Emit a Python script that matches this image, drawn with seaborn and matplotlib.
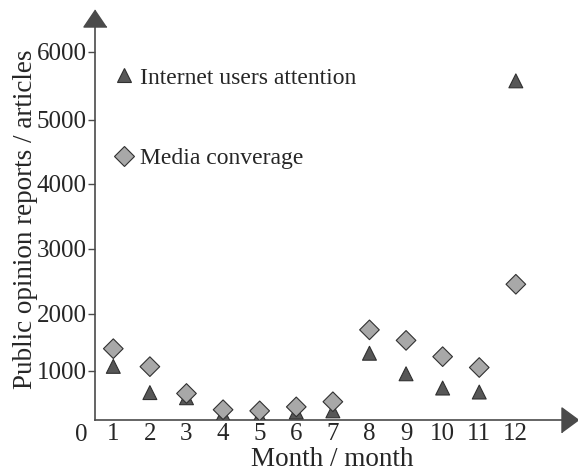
import numpy as np
import pandas as pd
import matplotlib.pyplot as plt
import seaborn as sns

# --- DATA ---
months = list(range(1, 13))
internet_attention = [1080, 620, 530, 245, 210, 280, 300, 1310, 950, 700, 630, 5570]
media_coverage = [1390, 1075, 605, 320, 300, 370, 460, 1720, 1535, 1250, 1060, 2455]
series_names = ['Internet users attention', 'Media converage']
y_ticks = [1000, 2000, 3000, 4000, 5000, 6000]

# the printed y axis is not evenly spaced: tick value -> height on the page
scale_vals = [-2000, 0, 1000, 2000, 3000, 4000, 5000, 6000, 10000]
scale_pos = [-68, 46, 103, 160, 225, 290, 354, 422, 694]


def fwd(v):
    return np.interp(v, scale_vals, scale_pos)


def inv(p):
    return np.interp(p, scale_pos, scale_vals)


df = pd.DataFrame({
    'month': months * 2,
    'value': internet_attention + media_coverage,
    'series': [series_names[0]] * 12 + [series_names[1]] * 12,
})

sns.set_style('white')
plt.rcParams['font.family'] = ['Liberation Serif', 'DejaVu Serif']
AX = '#4a4a4a'

fig = plt.figure(figsize=(5.78, 4.74), dpi=100)
W, H = 578, 474
ax = fig.add_axes([95 / W, 54 / H, (570 - 95) / W, (455.5 - 54) / H])

sns.scatterplot(data=df, x='month', y='value', hue='series', style='series',
                palette={series_names[0]: '#575757', series_names[1]: '#a8a8a8'},
                markers={series_names[0]: '^', series_names[1]: 'D'},
                s=100, edgecolor='#303030', linewidth=0.8, ax=ax, zorder=3)

ax.set_yscale('function', functions=(fwd, inv))
ax.set_ylim(140, 6486)
ax.set_xlim(0.5, 13.48)

ax.set_yticks(y_ticks)
ax.set_yticklabels([str(t) for t in y_ticks])
ax.set_xticks(months)
ax.set_xticklabels([str(m) for m in months])
ax.set_xticks([m + 0.5 for m in months], minor=True)
ax.tick_params(axis='x', which='major', length=0, pad=2, labelsize=18)
ax.tick_params(axis='x', which='minor', direction='in', length=5, width=1, color=AX)
ax.tick_params(axis='y', which='major', direction='out', length=5, width=1,
               color=AX, pad=1, labelsize=18, left=True)
ax.minorticks_on()
ax.yaxis.set_minor_locator(plt.NullLocator())

for side in ['top', 'right']:
    ax.spines[side].set_visible(False)
for side in ['left', 'bottom']:
    ax.spines[side].set_color(AX)
    ax.spines[side].set_linewidth(1.2)

# arrow heads at the end of both axes
up = [(0, 8.5), (-11.5, -8.5), (11.5, -8.5)]
right = [(8.5, 0), (-8.5, 12.5), (-8.5, -12.5)]
ax.plot(0, 1, marker=up, markersize=16.6, color=AX, transform=ax.transAxes, clip_on=False)
ax.plot(1, 0, marker=right, markersize=18, color=AX, transform=ax.transAxes, clip_on=False)

ax.set_xlabel('Month / month', fontsize=19.5, labelpad=1.5)
ax.set_ylabel('Public opinion reports / articles', fontsize=19.5, labelpad=-1)
fig.text(81 / W, 1 - 435 / H, '0', fontsize=18, ha='center', va='center')

sns.move_legend(ax, 'upper left', bbox_to_anchor=(112 / W, 1 - 67 / H),
                bbox_transform=fig.transFigure, frameon=False, title=None,
                fontsize=17, handlelength=1.0, handletextpad=0.2,
                labelspacing=2.5, borderpad=0, borderaxespad=0)

plt.savefig('out.png', dpi=100)
